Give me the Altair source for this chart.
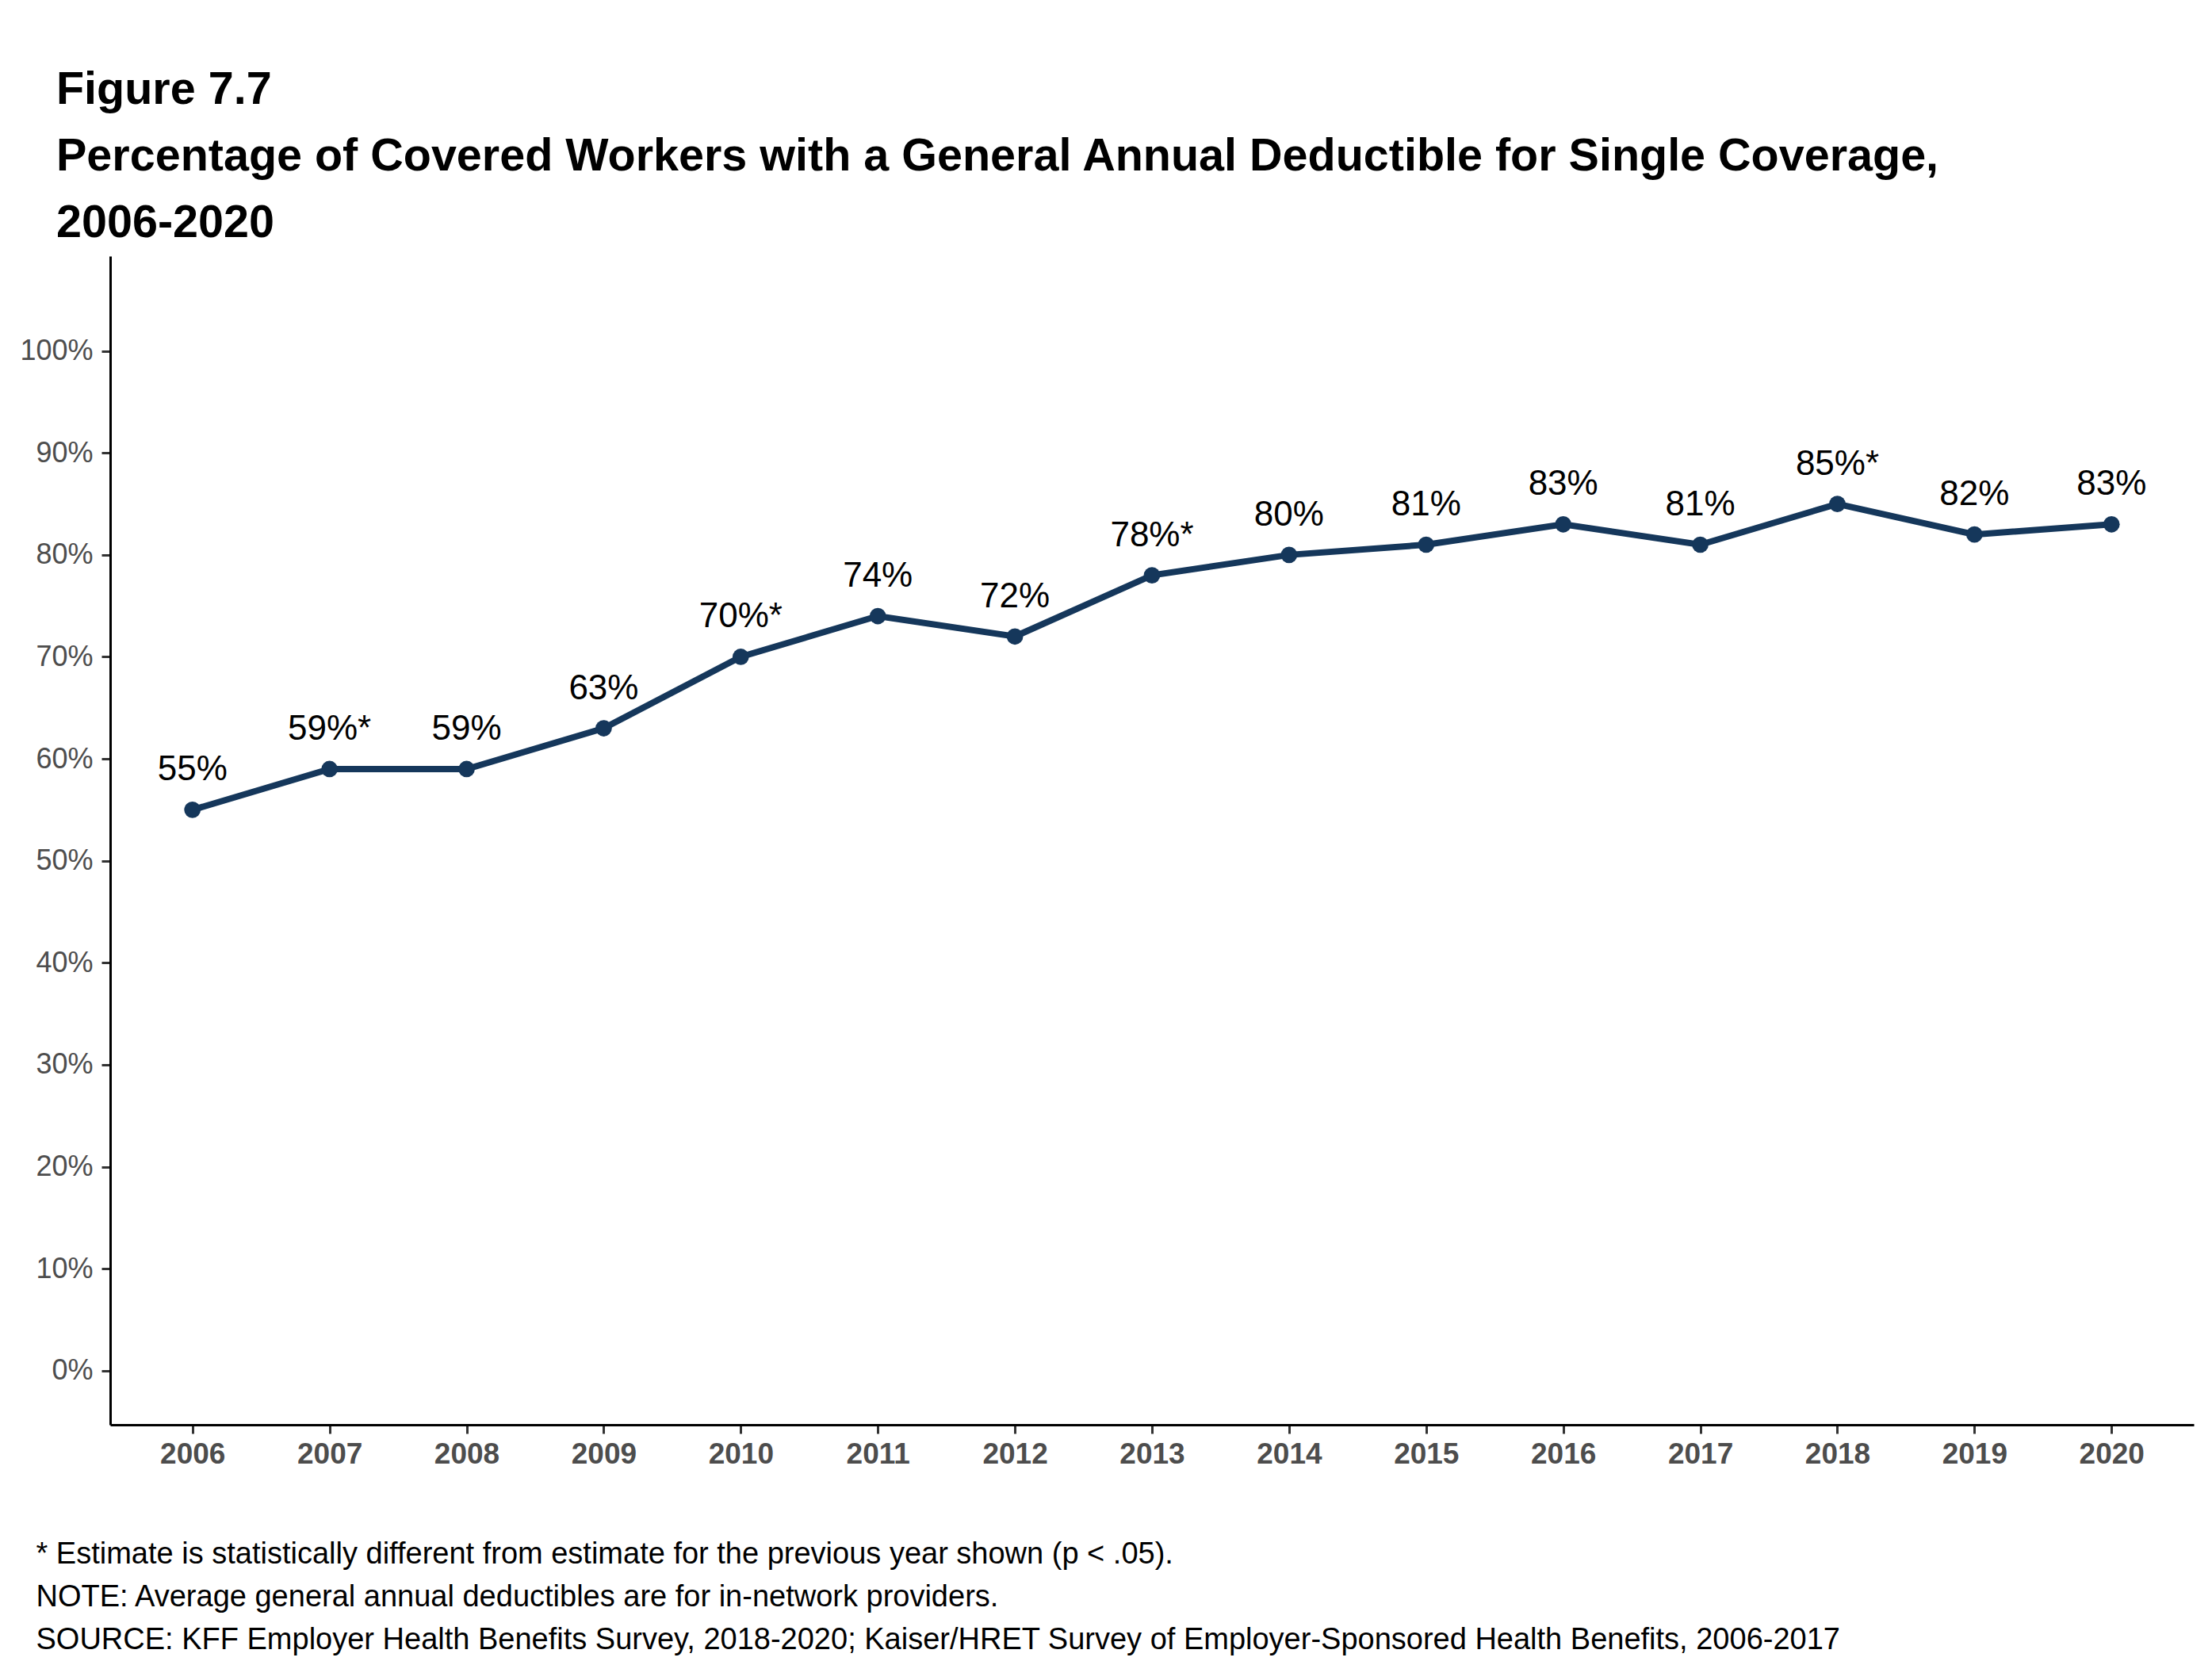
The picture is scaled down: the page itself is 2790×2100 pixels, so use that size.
import altair as alt
import pandas as pd

years = ["2006", "2007", "2008", "2009", "2010", "2011", "2012", "2013",
         "2014", "2015", "2016", "2017", "2018", "2019", "2020"]
values = [55, 59, 59, 63, 70, 74, 72, 78, 80, 81, 83, 81, 85, 82, 83]
labels = ["55%", "59%*", "59%", "63%", "70%*", "74%", "72%", "78%*",
          "80%", "81%", "83%", "81%", "85%*", "82%", "83%"]
y_ticks = [0, 10, 20, 30, 40, 50, 60, 70, 80, 90, 100]

title_lines = [
    "Figure 7.7",
    "Percentage of Covered Workers with a General Annual Deductible for Single Coverage,",
    "2006-2020",
]
notes = [
    "* Estimate is statistically different from estimate for the previous year shown (p < .05).",
    "NOTE: Average general annual deductibles are for in-network providers.",
    "SOURCE: KFF Employer Health Benefits Survey, 2018-2020; Kaiser/HRET Survey of Employer-Sponsored Health Benefits, 2006-2017",
]

FONT = "Arial, Liberation Sans, sans-serif"
NAVY = "#15375B"

df = pd.DataFrame({"year": years, "value": values, "label": labels})

x_enc = alt.X(
    "year:O",
    scale=alt.Scale(type="point", padding=0.6),
    axis=alt.Axis(
        labelAngle=0,
        labelFont=FONT,
        labelFontSize=37,
        labelFontWeight="bold",
        labelColor="#4D4D4D",
        labelPadding=8,
        tickSize=11,
        tickWidth=3,
        tickColor="#333333",
        domainColor="#000000",
        domainWidth=3,
        grid=False,
        title=notes,
        titleAnchor="start",
        titleAlign="left",
        titleBaseline="top",
        titleX=-94,
        titleY=144,
        titleFont=FONT,
        titleFontSize=38,
        titleFontWeight="normal",
        titleColor="#000000",
        titleLineHeight=54,
        titleLimit=3000,
    ),
)
y_enc = alt.Y(
    "value:Q",
    scale=alt.Scale(domain=[-5.3, 109.3], nice=False, zero=False),
    axis=alt.Axis(
        values=y_ticks,
        labelExpr="datum.value + '%'",
        labelFont=FONT,
        labelFontSize=36,
        labelColor="#4D4D4D",
        labelPadding=11,
        tickSize=11,
        tickWidth=3,
        tickColor="#333333",
        domainColor="#000000",
        domainWidth=3,
        grid=False,
        title=None,
    ),
)

base = alt.Chart(df).encode(x=x_enc, y=y_enc)

line = base.mark_line(color=NAVY, strokeWidth=8)
points = base.mark_point(filled=True, color=NAVY, size=430, opacity=1)
text = base.mark_text(dy=-37, baseline="alphabetic", align="center",
                      font=FONT, fontSize=44, color="#000000").encode(text="label:N")

chart = (
    alt.layer(line, points, text)
    .properties(
        width=2628,
        height=1474,
        background="white",
        padding={"left": 131, "top": 315, "right": 15, "bottom": 295},
        autosize=alt.AutoSizeParams(type="none"),
        title=alt.TitleParams(
            text=title_lines,
            anchor="start",
            frame="group",
            dx=-68,
            dy=223,
            offset=190,
            baseline="alphabetic",
            font=FONT,
            fontSize=57.5,
            fontWeight="bold",
            color="#000000",
            lineHeight=84,
            limit=3000,
        ),
    )
    .configure_view(stroke="transparent", strokeWidth=0)
)

chart.save("out.html", embed_options={"renderer": "svg", "actions": False})
